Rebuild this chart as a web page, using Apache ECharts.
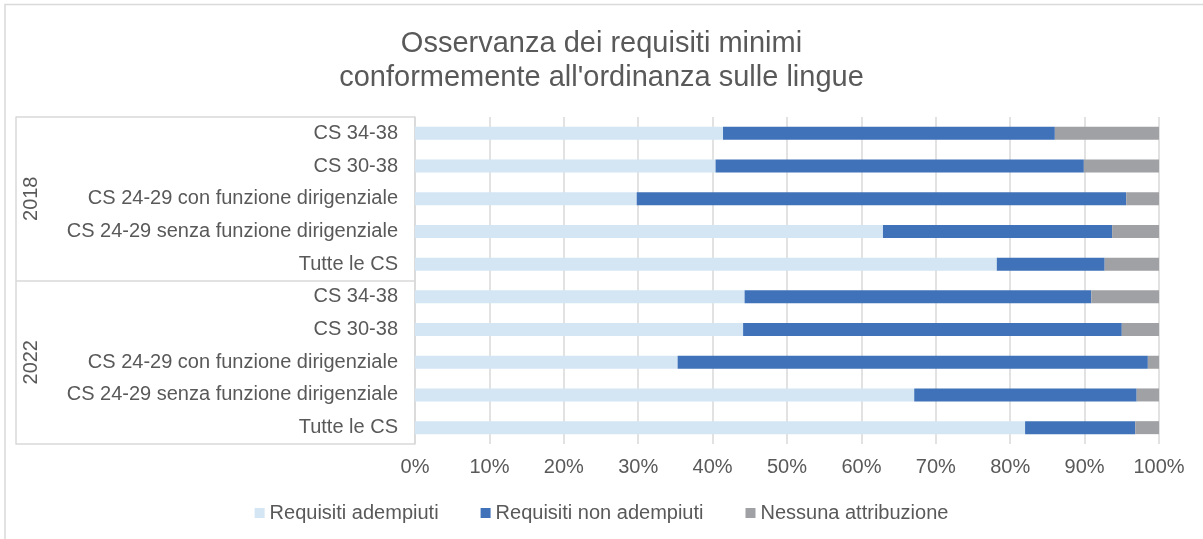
<!DOCTYPE html>
<html>
<head>
<meta charset="utf-8">
<style>
  html, body { margin: 0; padding: 0; background: #fff; }
  #chart { width: 1203px; height: 539px; }
</style>
<script src="https://cdn.jsdelivr.net/npm/echarts@6/dist/echarts.min.js"></script>
</head>
<body>
<div id="chart"></div>
<script>
  // categorie dall'alto verso il basso
  var categories = [
    "CS 34-38", "CS 30-38", "CS 24-29 con funzione dirigenziale",
    "CS 24-29 senza funzione dirigenziale", "Tutte le CS",
    "CS 34-38", "CS 30-38", "CS 24-29 con funzione dirigenziale",
    "CS 24-29 senza funzione dirigenziale", "Tutte le CS"
  ];
  var years = ["2018", "2022"];
  var adempiuti    = [41.4, 40.4, 29.8, 62.9, 78.2, 44.3, 44.1, 35.3, 67.1, 82.0];
  var nonAdempiuti = [44.6, 49.5, 65.8, 30.8, 14.5, 46.6, 50.9, 63.2, 29.9, 14.8];
  var nessuna      = [14.0, 10.1, 4.4, 6.3, 7.3, 9.1, 5.0, 1.5, 3.0, 3.2];
  var xTicks = [0, 10, 20, 30, 40, 50, 60, 70, 80, 90, 100];

  var FONT = "Liberation Sans, Arial, sans-serif";
  var TXT = "#595959";
  var LINE = "#d9d9d9";

  var chart = echarts.init(document.getElementById("chart"), null, { renderer: "canvas" });

  function bar(name, data, color) {
    return {
      name: name, type: "bar", stack: "tot", data: data, yAxisIndex: 0,
      barWidth: 13, itemStyle: { color: color }, emphasis: { disabled: true }
    };
  }

  chart.setOption({
    backgroundColor: "#fff",
    animation: false,
    title: {
      text: "Osservanza dei requisiti minimi\nconformemente all'ordinanza sulle lingue",
      left: "center", top: 22,
      textStyle: { color: TXT, fontFamily: FONT, fontSize: 29, fontWeight: "normal", lineHeight: 34 }
    },
    legend: {
      bottom: 11, left: "center", itemWidth: 10, itemHeight: 10, itemGap: 42, icon: "rect",
      textStyle: { color: TXT, fontFamily: FONT, fontSize: 20 }
    },
    grid: { left: 415, right: 44, top: 117, bottom: 95, containLabel: false },
    xAxis: {
      type: "value", min: xTicks[0], max: xTicks[xTicks.length - 1], interval: 10,
      axisLine: { show: false }, axisTick: { show: false },
      axisLabel: { color: TXT, fontFamily: FONT, fontSize: 20, margin: 13, formatter: "{value}%" },
      splitLine: { lineStyle: { color: LINE, width: 1.5 } }
    },
    yAxis: [{
      type: "category", data: categories, inverse: true,
      axisLine: { lineStyle: { color: LINE, width: 1.5 } },
      axisTick: { show: false },
      axisLabel: { color: TXT, fontFamily: FONT, fontSize: 20, margin: 17 }
    }, {
      type: "category", data: years, inverse: true, position: "left", offset: 399,
      axisLine: { show: true, lineStyle: { color: LINE, width: 1.5 } },
      axisTick: { show: true, inside: true, length: 399, lineStyle: { color: LINE, width: 1.5 } },
      axisLabel: { color: TXT, fontFamily: FONT, fontSize: 20, rotate: 90, inside: true, margin: 5 },
      splitLine: { show: false }
    }],
    graphic: [{
      type: "rect", silent: true, z: -1,
      shape: { x: 5, y: 4.5, width: 1220, height: 560 },
      style: { fill: null, stroke: LINE, lineWidth: 1.5 }
    }],
    series: [
      bar("Requisiti adempiuti", adempiuti, "#d4e6f4"),
      bar("Requisiti non adempiuti", nonAdempiuti, "#3f72b9"),
      bar("Nessuna attribuzione", nessuna, "#a0a1a5")
    ]
  });
</script>
</body>
</html>
